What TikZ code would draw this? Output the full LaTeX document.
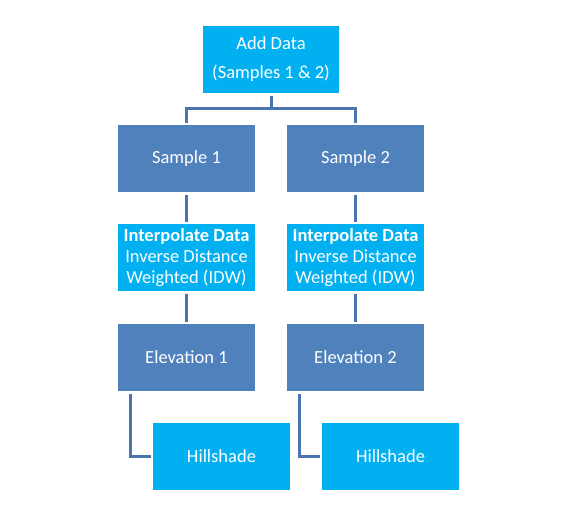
\documentclass[tikz,border=0pt]{standalone}
\usepackage{fontspec}
\setmainfont{Carlito}
\definecolor{darkbox}{HTML}{4F81BD}
\definecolor{lightbox}{HTML}{00B0F0}
\definecolor{linkcol}{HTML}{4A75AE}
\begin{document}
\begin{tikzpicture}[x=1pt,y=-1pt,
  box/.style={minimum width=137pt,minimum height=67pt,inner sep=0pt,outer sep=2.5pt,
    align=center,text=white,font=\fontsize{18.5}{21}\selectfont},
  darkstep/.style={box,fill=darkbox},
  lightstep/.style={box,fill=lightbox},
  link/.style={draw=linkcol,line width=3pt}]
\useasboundingbox (0,0) rectangle (562,507);
% top box
\node[lightstep,minimum width=136pt,font=\fontsize{18.5}{29}\selectfont] (add) at (271,59.5) {Add Data\\(Samples 1 \& 2)};
% left column
\node[darkstep] (s1) at (186.5,158.5) {Sample 1};
\node[lightstep] (i1) at (186.5,257.5) {\textbf{Interpolate Data}\\Inverse Distance\\Weighted (IDW)};
\node[darkstep] (e1) at (186.5,357.5) {Elevation 1};
\node[lightstep] (h1) at (221.5,456.5) {Hillshade};
% right column
\node[darkstep] (s2) at (355.5,158.5) {Sample 2};
\node[lightstep] (i2) at (355.5,257.5) {\textbf{Interpolate Data}\\Inverse Distance\\Weighted (IDW)};
\node[darkstep] (e2) at (355.5,357.5) {Elevation 2};
\node[lightstep] (h2) at (390.5,456.5) {Hillshade};
% connectors
\coordinate (fork) at (271,108);
\draw[link] (add.south) -- (fork);
\draw[link] (fork) -| (s1.north);
\draw[link] (fork) -| (s2.north);
\draw[link] (s1) -- (i1);
\draw[link] (i1) -- (e1);
\draw[link] (s2) -- (i2);
\draw[link] (i2) -- (e2);
\draw[link] (e1.south west) ++(14.5,0) |- (h1.west);
\draw[link] (e2.south west) ++(14.5,0) |- (h2.west);
\end{tikzpicture}
\end{document}
